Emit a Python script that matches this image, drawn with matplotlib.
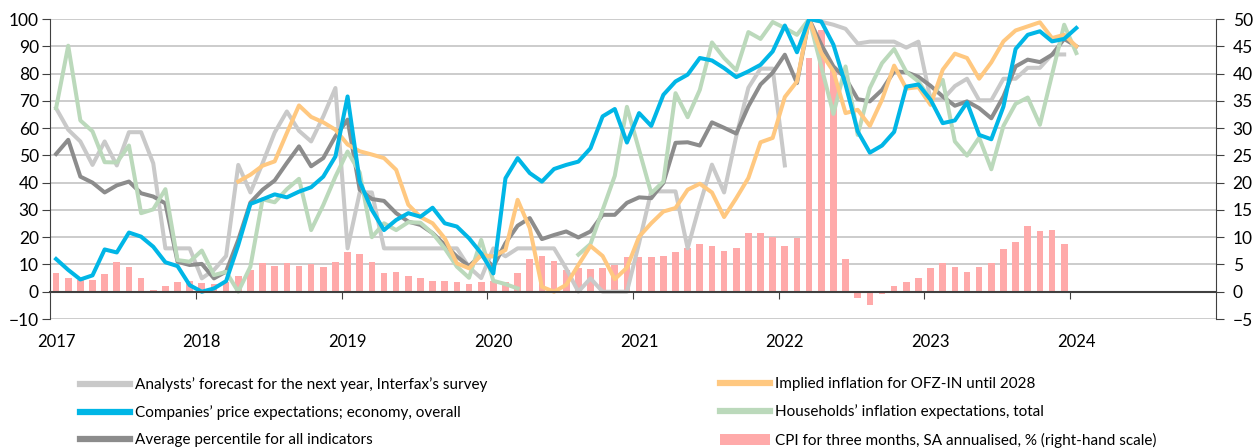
import numpy as np
import matplotlib
matplotlib.use("Agg")
import matplotlib.pyplot as plt
from matplotlib.lines import Line2D
from matplotlib.patches import Patch

plt.rcParams['font.family'] = ['Lato', 'DejaVu Sans']

nan = np.nan
years = ['2017', '2018', '2019', '2020', '2021', '2022', '2023', '2024']

# monthly, Jan 2017 .. Jan 2024 (percentile, left scale)
analysts = [67.3, 59.4, 55.1, 46.5, 55.1, 46.3, 58.5, 58.5, 47.1, 15.9, 15.9, 15.9,
            4.9, 8.0, 13.1, 46.5, 36.4, 47.1, 58.4, 66.1, 59.0, 55.1, 64.3, 74.7,
            15.9, 36.4, 36.4, 15.9, 15.9, 15.9, 15.9, 15.9, 15.9, 15.9, 9.0, 5.0,
            15.9, 13.0, 15.9, 15.9, 15.9, 15.9, 8.5, 0.0, 4.9, 0.0, 0.0, 0.0,
            17.8, 36.8, 36.8, 36.8, 15.9, 32.0, 46.6, 36.4, 57.0, 74.8, 81.8, 81.8,
            46.3, nan, 100, 99.0, 97.9, 96.4, 91.0, 91.7, 91.7, 91.7, 89.5, 91.7,
            70.5, 70.5, 75.4, 78.1, 70.2, 70.2, 78.1, 78.1, 82.1, 82.1, 87.0, 87.0,
            nan]
companies = [12.0, 8.0, 4.5, 6.0, 15.5, 14.4, 21.7, 20.2, 16.5, 10.8, 9.4, 2.4,
             0.0, 1.2, 3.9, 17.1, 32.2, 33.9, 35.7, 34.6, 36.7, 38.3, 42.2, 49.6,
             71.6, 40.4, 30.0, 22.6, 26.3, 28.8, 27.5, 30.8, 25.1, 23.9, 19.6, 14.1,
             6.7, 41.6, 49.0, 43.5, 40.4, 45.0, 46.5, 47.7, 52.6, 64.3, 67.0, 54.7,
             65.5, 60.8, 72.2, 77.1, 79.6, 85.7, 84.8, 82.0, 78.7, 80.8, 83.2, 88.1,
             97.6, 87.8, 100, 99.1, 90.6, 75.9, 58.8, 51.0, 53.6, 58.6, 75.2, 76.0,
             70.4, 61.8, 62.8, 69.4, 57.5, 55.9, 67.9, 89.0, 94.2, 95.5, 91.8, 92.7,
             96.7]
average = [50.5, 55.7, 42.2, 40.0, 36.4, 39.0, 40.4, 36.1, 34.9, 32.4, 11.0, 9.8,
           10.2, 4.9, 7.4, 19.0, 32.7, 37.4, 40.8, 47.2, 53.3, 46.0, 49.0, 57.0,
           63.1, 37.4, 34.0, 33.3, 28.8, 25.7, 24.5, 21.5, 17.2, 12.9, 9.4, 13.5,
           9.2, 17.8, 24.2, 27.0, 19.3, 20.8, 22.1, 19.9, 22.1, 28.2, 28.2, 32.6,
           34.6, 34.3, 39.9, 54.6, 54.8, 53.6, 62.1, 60.1, 58.0, 68.0, 76.0, 80.3,
           86.9, 76.5, 100, 90.6, 82.6, 78.3, 70.6, 69.8, 74.0, 80.8, 80.5, 78.8,
           75.5, 71.6, 68.2, 69.8, 67.3, 63.6, 71.6, 82.6, 85.1, 84.2, 86.9, 92.7,
           90.0]
implied = [nan] * 15 + [
    40.4, 42.9, 46.2, 47.8, 58.2, 68.3, 64.1, 62.1, 59.4,
    54.0, 51.5, 50.3, 49.0, 44.7, 31.9, 27.4, 25.1, 19.6, 10.4, 8.6, 13.5,
    12.9, 15.3, 33.7, 23.3, 1.8, 0.0, 2.5, 9.8, 16.8, 13.1, 4.6, 8.8,
    20.2, 25.1, 29.4, 30.7, 37.4, 39.6, 36.4, 27.4, 34.3, 41.7, 54.8, 56.4,
    71.4, 77.1, 100, 87.5, 80.8, 65.5, 66.7, 60.8, 70.4, 82.9, 74.5, 75.0,
    68.5, 81.4, 87.3, 85.7, 78.1, 84.1, 91.8, 95.8, 97.3, 98.8, 93.0, 94.2,
    90.0]
households = [67.3, 90.2, 62.8, 58.8, 47.5, 47.4, 53.6, 28.8, 30.2, 37.6, 11.6, 11.0,
              15.1, 6.1, 7.3, 0.0, 9.2, 33.9, 32.8, 37.6, 41.4, 22.6, 31.8, 42.2,
              51.4, 43.7, 20.0, 25.1, 22.6, 25.5, 25.3, 21.4, 15.9, 9.2, 5.1, 19.0,
              4.0, 2.8, 1.2, nan, nan, nan, nan, 13.6, 17.5, 30.0, 42.5, 67.8,
              52.0, 36.1, 40.4, 72.8, 64.0, 74.0, 91.4, 85.7, 81.2, 95.2, 92.7, 98.9,
              96.7, 94.2, 100, 82.6, 65.2, 82.6, 57.5, 74.7, 83.8, 89.0, 80.6, 77.1,
              70.4, 77.7, 55.1, 49.9, 56.5, 44.9, 60.8, 68.9, 71.2, 61.2, 79.6, 97.9,
              87.5]
# CPI 3m SA annualised, % (right scale), Jan 2017 .. Dec 2023
cpi = [3.5, 2.6, 2.1, 2.1, 3.3, 5.5, 4.5, 2.6, 0.3, 1.0, 1.7, 2.0,
       1.6, 1.5, 1.8, 2.9, 4.0, 5.3, 4.8, 5.2, 4.8, 5.0, 4.6, 5.4,
       7.2, 6.9, 5.5, 3.4, 3.6, 2.9, 2.6, 2.0, 2.0, 1.8, 1.5, 1.7,
       2.0, 1.8, 3.4, 6.0, 6.6, 5.7, 4.0, 4.4, 4.2, 4.3, 4.9, 6.4,
       6.4, 6.4, 6.5, 7.2, 8.1, 8.8, 8.3, 7.5, 8.0, 10.7, 10.8, 10.0,
       8.4, 9.8, 42.8, 47.9, 40.7, 6.0, -1.2, -2.4, -0.4, 1.1, 1.8, 2.6,
       4.3, 5.2, 4.5, 3.7, 4.5, 5.2, 7.8, 9.2, 12.1, 11.1, 11.3, 8.7]

labels_left = ["Analysts\u2019 forecast for the next year, Interfax\u2019s survey",
               "Companies\u2019 price expectations; economy, overall",
               "Average percentile for all indicators"]
labels_right = ["Implied inflation for OFZ-IN until 2028",
                "Households\u2019 inflation expectations, total",
                "CPI for three months, SA annualised, % (right-hand scale)"]

c_analysts = '#C9C9C9'
c_companies = '#00B6E6'
c_average = '#8C8C8C'
c_implied = '#FFC880'
c_house = '#BBD9BB'
c_cpi = '#FFAAAA'
c_grid = '#C4C4C4'
c_axis = '#404040'

fig = plt.figure(figsize=(12.53, 4.48), dpi=100)
ax = fig.add_axes([50 / 1253, 1 - 319 / 448, (1216 - 50) / 1253, 300 / 448])
ax2 = ax.twinx()
ax.set_zorder(ax2.get_zorder() + 1)
ax.patch.set_visible(False)

x = np.arange(len(companies)) + 0.5
xb = np.arange(len(cpi)) + 0.5

ax2.bar(xb, cpi, width=0.55, color=c_cpi, zorder=2)
ax2.set_ylim(-5, 50)
ax2.set_yticks(np.arange(-5, 51, 5))
ax2.yaxis.grid(True, color=c_grid, lw=1.2, zorder=0)
ax2.set_axisbelow(True)
for s in ['left', 'top', 'bottom']:
    ax2.spines[s].set_visible(False)
ax2.spines['right'].set_color(c_axis)
ax2.tick_params(axis='y', direction='out', length=6, pad=6, labelsize=12.5, color=c_axis)

lw = 2.9
ax.plot(x, analysts, color=c_analysts, lw=lw)
ax.plot(x, average, color=c_average, lw=lw)
ax.plot(x, households, color=c_house, lw=lw)
ax.plot(x, implied, color=c_implied, lw=lw)
ax.plot(x, companies, color=c_companies, lw=lw)

ax.set_xlim(0, 96)
ax.set_ylim(-10, 100)
ax.set_yticks(np.arange(-10, 101, 10))
ax.tick_params(axis='y', direction='out', length=6, pad=2, labelsize=12.5, color=c_axis)
ax.spines['top'].set_visible(False)
ax.spines['right'].set_visible(False)
ax.spines['left'].set_color(c_axis)
ax.spines['bottom'].set_position(('data', 0))
ax.spines['bottom'].set_color(c_axis)
ax.spines['bottom'].set_linewidth(1.5)
ax.set_xticks(np.arange(12, 85, 12))
ax.tick_params(axis='x', direction='out', length=5, labelbottom=False, color=c_axis)

sec = ax.secondary_xaxis(0)
sec.set_xticks(np.arange(0, 85, 12) + 0.5, years)
sec.tick_params(length=0, pad=11, labelsize=12)
sec.spines['bottom'].set_visible(False)

h_left = [Line2D([], [], color=c_analysts, lw=4.5),
          Line2D([], [], color=c_companies, lw=4.5),
          Line2D([], [], color=c_average, lw=4.5)]
h_right = [Line2D([], [], color=c_implied, lw=4.5),
           Line2D([], [], color=c_house, lw=4.5),
           Patch(facecolor=c_cpi, edgecolor='none')]
kw = dict(loc='upper left', frameon=False, fontsize=11, handlelength=3.3,
          handletextpad=0.3, labelspacing=0.87, borderpad=0, borderaxespad=0)
fig.legend(h_left, labels_left, bbox_to_anchor=(80 / 1253, 1 - 377 / 448), **kw)
fig.legend(h_right, labels_right, bbox_to_anchor=(720 / 1253, 1 - 377 / 448), **kw)

fig.savefig('out.png', dpi=100)
